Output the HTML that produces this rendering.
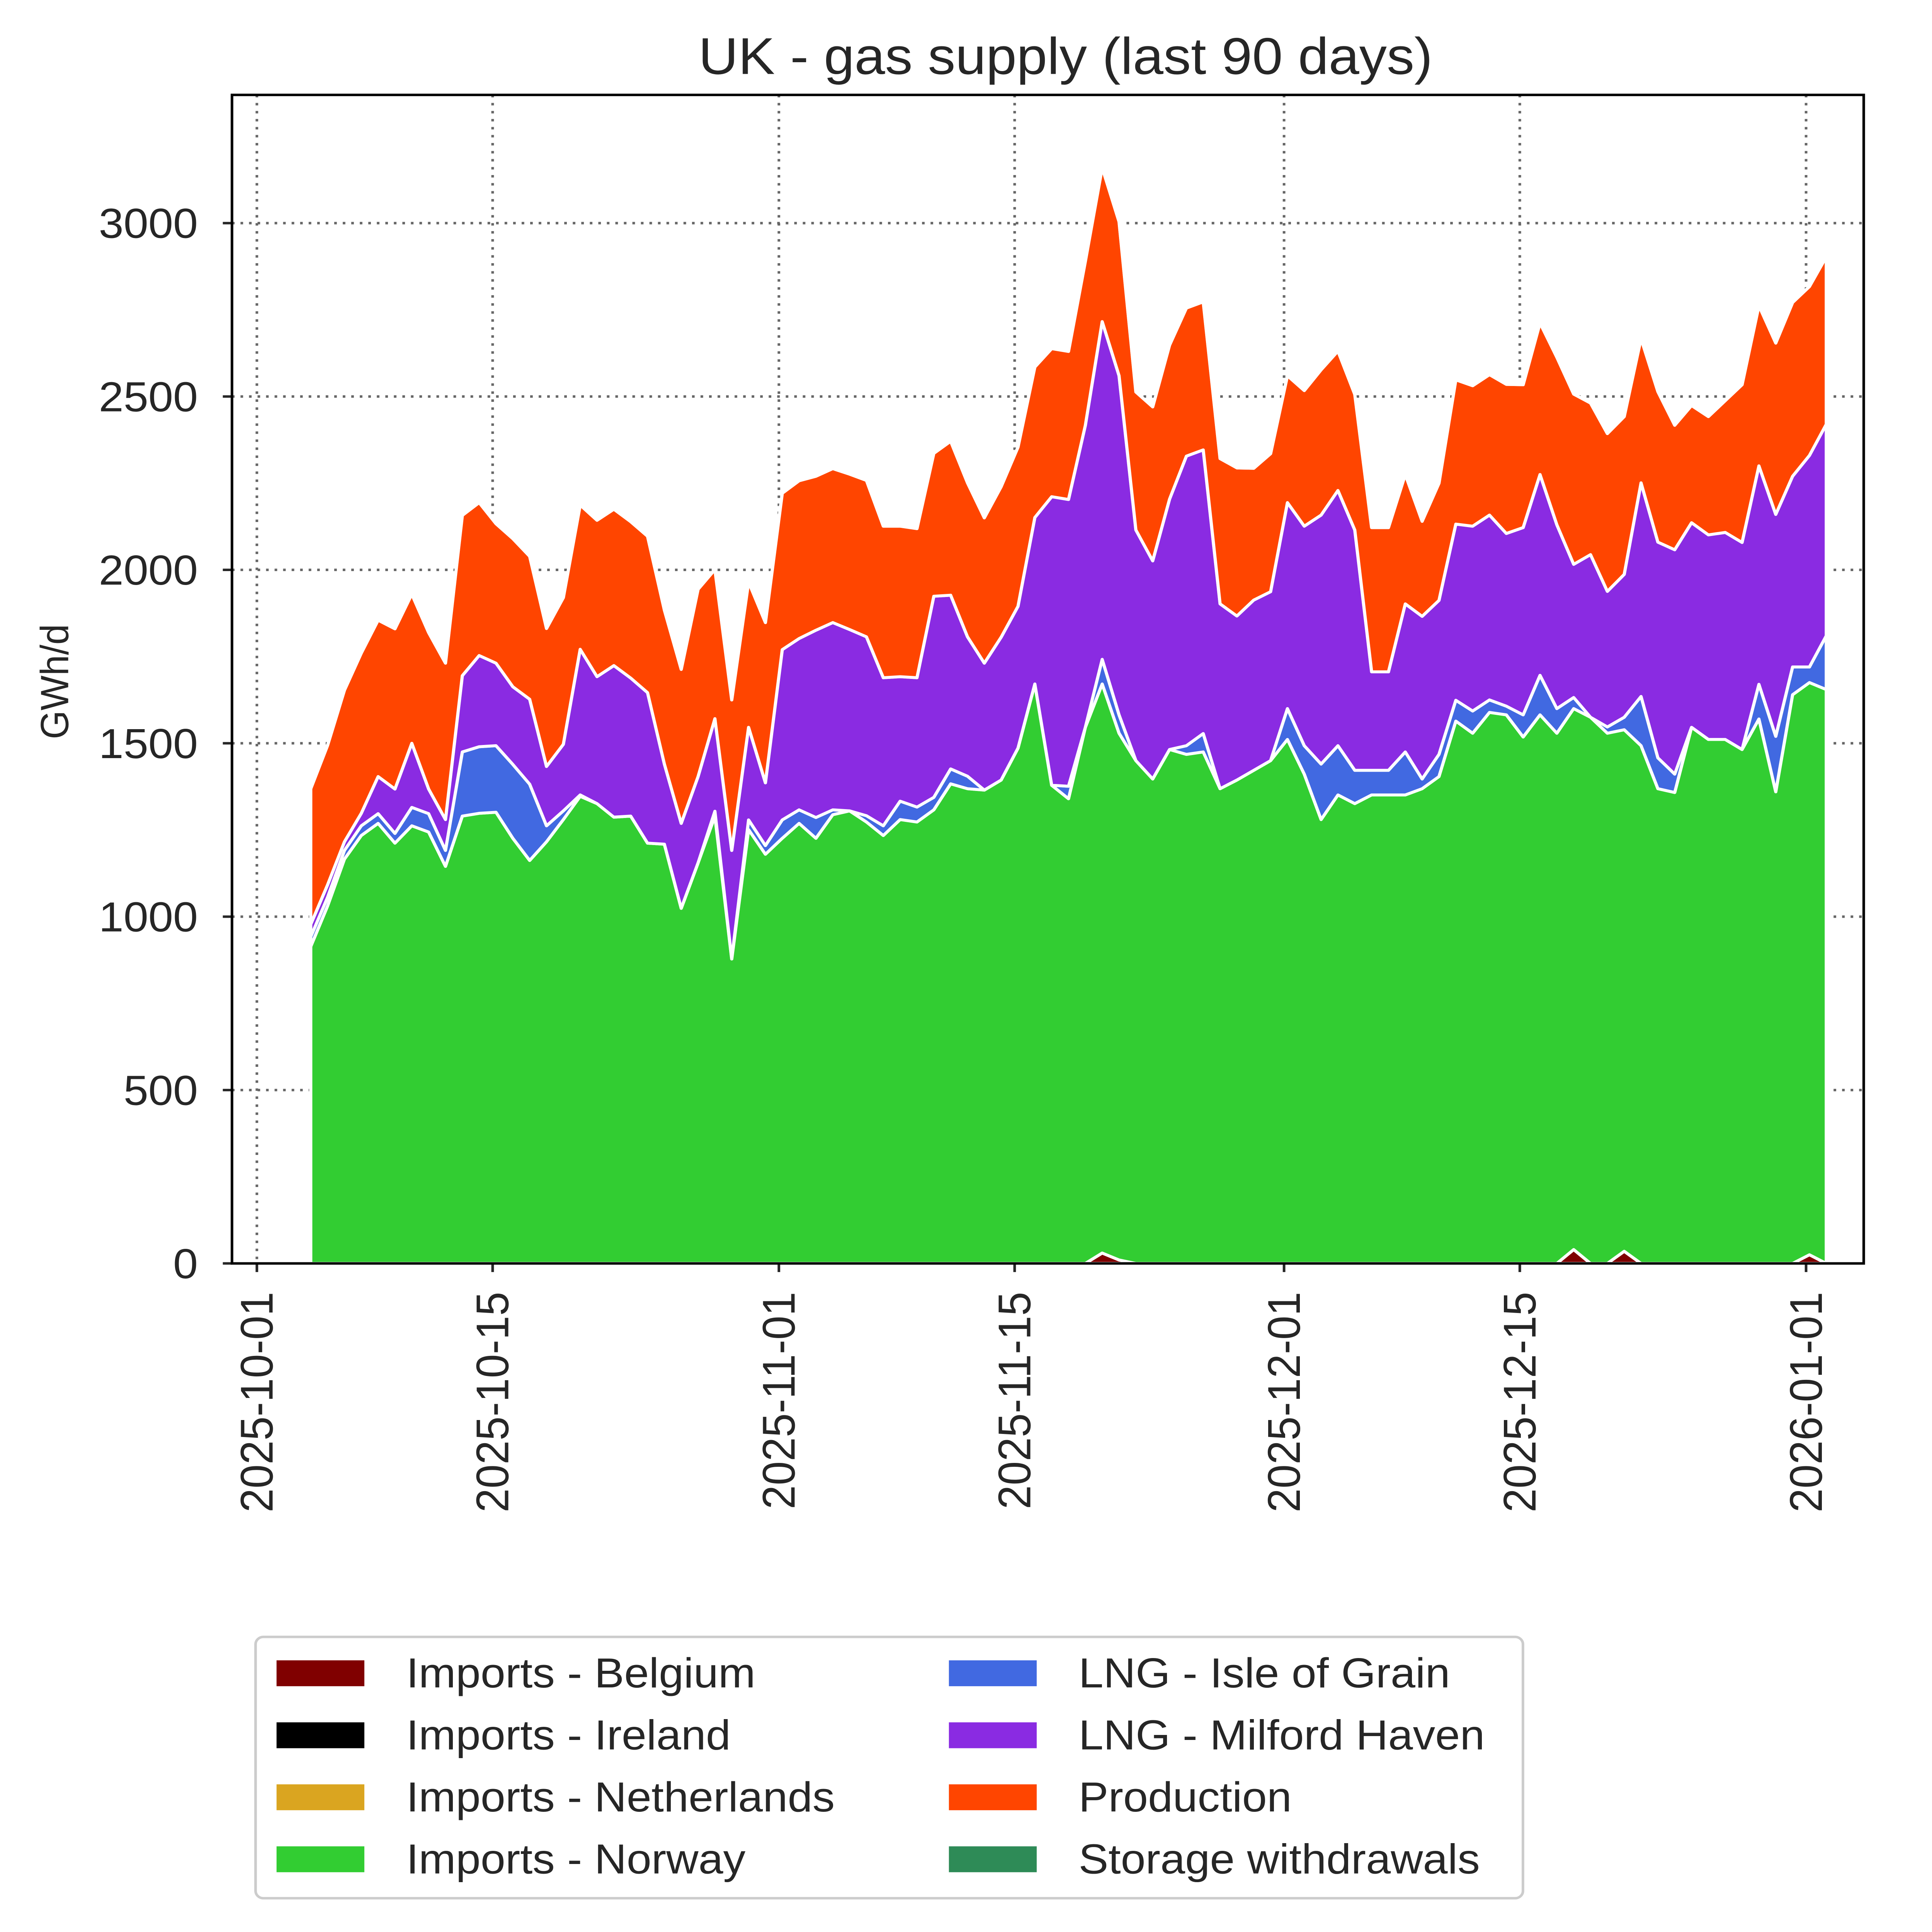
<!DOCTYPE html>
<html><head><meta charset="utf-8"><style>
html,body{margin:0;padding:0;background:#fff;width:100vw;height:100vh;overflow:hidden;}
svg{display:block;width:100vw;height:100vh;}
text{font-family:"Liberation Sans",Arial,sans-serif;fill:#262626;}
</style></head><body>
<svg id="chart" xmlns="http://www.w3.org/2000/svg" viewBox="0 0 1474.1 1567.4" preserveAspectRatio="none">
<rect width="1474.1" height="1567.4" fill="#fff"/>
<text x="813" y="60" font-size="42" text-anchor="middle">UK - gas supply (last 90 days)</text>
<text transform="translate(52,553) rotate(-90)" font-size="30" text-anchor="middle">GWh/d</text>
<g id="grid"></g>
<g id="areas"></g>
<g id="axes"></g>
<g>
<rect x="195" y="1328" width="967" height="212" rx="6" fill="#fff" stroke="#ccc" stroke-width="2"/>
</g>
<g id="legend"></g>
</svg>
<script>
const startDay = 3.2; // days after 2025-10-01 for first point
const belgium = [0,0,0,0,0,0,0,0,0,0,0,0,0,0,0,0,0,0,0,0,0,0,0,0,0,0,0,0,0,0,0,0,0,0,0,0,0,0,0,0,0,0,0,0,0,0,0,30,10,0,0,0,0,0,0,0,0,0,0,0,0,0,0,0,0,0,0,0,0,0,0,0,0,0,0,40,0,0,35,0,0,0,0,0,0,0,0,0,0,25,0];
const ireland = new Array(91).fill(0);
const netherlands = new Array(91).fill(0);
const norway = [914,1031,1166,1234,1269,1212,1262,1244,1145,1290,1298,1301,1226,1162,1216,1280,1347,1326,1287,1290,1212,1209,1024,1155,1290,878,1251,1180,1226,1269,1226,1294,1305,1273,1234,1280,1273,1308,1383,1369,1365,1394,1486,1671,1379,1340,1546,1641,1519,1450,1397,1482,1468,1475,1369,1394,1422,1450,1511,1411,1280,1351,1326,1351,1351,1351,1369,1404,1564,1529,1589,1582,1518,1582,1529,1560,1575,1529,1504,1493,1369,1358,1546,1511,1511,1482,1570,1360,1640,1650,1655];
const grain = [28,25,25,28,28,28,53,53,46,185,192,192,213,220,46,25,4,0,0,0,0,0,0,0,14,0,28,25,53,39,60,14,0,18,28,53,43,36,43,36,0,0,0,0,0,36,0,71,53,0,0,0,25,53,0,0,0,0,89,82,160,142,96,71,71,124,28,64,60,64,36,25,64,114,71,32,0,18,36,142,89,53,0,0,0,0,100,160,80,45,155];
const milford = [36,36,25,36,107,128,185,71,89,220,263,238,224,245,171,192,420,366,437,398,434,231,245,249,267,313,267,181,491,494,540,540,523,516,427,359,373,580,501,402,366,412,409,480,832,827,871,974,978,665,629,722,835,818,533,473,491,487,594,633,718,736,693,284,284,427,469,444,508,533,533,498,540,579,530,384,469,391,412,616,622,647,590,590,597,597,630,640,550,610,610];
const production = [391,402,437,462,451,462,430,451,451,462,441,402,427,412,398,423,416,451,451,451,451,444,444,540,430,434,419,462,451,455,444,444,448,451,437,434,430,412,444,444,419,434,459,434,427,427,473,444,444,398,444,444,427,427,419,427,380,398,366,391,419,402,391,416,416,373,274,338,416,405,405,430,412,437,483,491,437,455,455,416,434,359,338,341,380,455,462,494,501,487,483];
const storage = new Array(91).fill(0);
const yTicks = [0,500,1000,1500,2000,2500,3000];
const xTickLabels = ["2025-10-01","2025-10-15","2025-11-01","2025-11-15","2025-12-01","2025-12-15","2026-01-01"];
const xTickDays = [0,14,31,45,61,75,92];
const seriesNames = ["Imports - Belgium","Imports - Ireland","Imports - Netherlands","Imports - Norway","LNG - Isle of Grain","LNG - Milford Haven","Production","Storage withdrawals"];
const seriesColors = ["#800000","#000000","#DAA520","#32CD32","#4169E1","#8A2BE2","#FF4500","#2E8B57"];
const series = [belgium,ireland,netherlands,norway,grain,milford,production,storage];

const NS="http://www.w3.org/2000/svg";
const L=177,R=1422,T=77,B=1025;
const xs=d=>196+d*12.848;
const ys=v=>B-v*0.28133;
function mk(tag,attrs,parent){const e=document.createElementNS(NS,tag);for(const k in attrs)e.setAttribute(k,attrs[k]);parent.appendChild(e);return e;}
const grid=document.getElementById('grid'),areas=document.getElementById('areas'),axes=document.getElementById('axes'),legend=document.getElementById('legend');

yTicks.forEach((v,i)=>{
  const y=ys(v);
  if(v>0){const g=mk('line',{x1:L,x2:R,y1:y,y2:y,stroke:'#666','stroke-width':2,'stroke-dasharray':'2,4.5'},grid);
  
  }
  const t=mk('line',{x1:L-7,x2:L,y1:y,y2:y,stroke:'#262626','stroke-width':2},axes);
  
  
  const tx=mk('text',{x:L-26,y:y+12,'font-size':34,'text-anchor':'end'},axes);
  tx.textContent=v;
  
  
});
xTickDays.forEach((d,i)=>{
  const x=xs(d);
  const g=mk('line',{x1:x,x2:x,y1:T,y2:B,stroke:'#666','stroke-width':2,'stroke-dasharray':'2,4.5'},grid);
  
  
  const t=mk('line',{x1:x,x2:x,y1:B,y2:B+7,stroke:'#262626','stroke-width':2},axes);
  
  
  const tx=mk('text',{transform:`translate(${x+12},${B+23}) rotate(-90)`,'font-size':35,'text-anchor':'end'},axes);
  tx.textContent=xTickLabels[i];
  
  
});

const n=norway.length;
let base=new Array(n).fill(0);
series.forEach((s,si)=>{
  const top=base.map((b,i)=>b+s[i]);
  let pts=[];
  for(let i=0;i<n;i++)pts.push(xs(startDay+i).toFixed(2)+','+ys(top[i]).toFixed(2));
  for(let i=n-1;i>=0;i--)pts.push(xs(startDay+i).toFixed(2)+','+ys(base[i]).toFixed(2));
  const p=mk('polygon',{points:pts.join(' '),fill:seriesColors[si],stroke:'#fff','stroke-width':2.4,'stroke-linejoin':'round'},areas);
  
  
  base=top;
});
const frame=mk('rect',{x:L,y:T,width:R-L,height:B-T,fill:'none',stroke:'#000','stroke-width':2},axes);



seriesNames.forEach((nm,i)=>{
  const col=i<4?0:1,row=i%4;
  const px=col?724:211,tx=col?823:310,y=1357+row*50.3;
  const r=mk('rect',{x:px,y:y-10,width:67,height:21,fill:seriesColors[i]},legend);
  
  
  const t=mk('text',{x:tx,y:y+12,'font-size':34},legend);
  t.textContent=nm;
  
  
});
</script>
</body></html>
